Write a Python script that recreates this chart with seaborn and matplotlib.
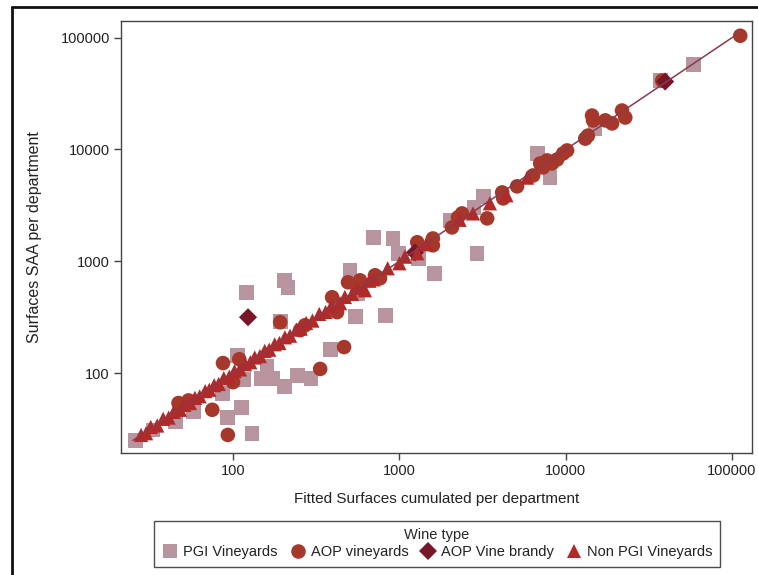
import matplotlib
matplotlib.use("Agg")
import matplotlib.pyplot as plt
from matplotlib.lines import Line2D
from matplotlib.ticker import FixedLocator, FixedFormatter, NullLocator
import seaborn as sns
import pandas as pd

# ---- data ----
categories = ["PGI Vineyards", "AOP vineyards", "AOP Vine brandy", "Non PGI Vineyards"]

pgi_x = [26, 33, 45, 58, 86, 93, 113, 130, 107, 115, 149, 160, 172, 205, 243, 294, 383, 542, 205, 214,
         121, 505, 557, 192, 695, 916, 982, 1295, 1620, 830, 2930, 2020, 2810, 3190, 6730, 8050, 15000, 37000, 59000]
pgi_y = [25, 31, 37, 45, 66, 40, 49, 29, 145, 87, 90, 115, 90, 76, 96, 89, 164, 323, 677, 586,
         529, 831, 518, 291, 1640, 1600, 1180, 1060, 780, 330, 1180, 2320, 3030, 3800, 9200, 5620, 15400, 41300, 57400]

aop_x = [47, 54, 75, 93, 87, 109, 100, 192, 334, 465, 394, 422, 491, 565, 253, 271, 580, 714, 765, 1280,
         1590, 1590, 2070, 2250, 2380, 3370, 4150, 4210, 5100, 6370, 7310, 8280, 8880, 9640, 10190, 13100,
         13600, 14400, 14600, 17300, 19000, 21800, 22800, 112000, 38000, 7020, 7730]
aop_y = [54, 57, 47, 28, 123, 133, 83, 285, 109, 171, 477, 351, 649, 611, 242, 268, 676, 750, 705, 1480,
         1600, 1390, 2010, 2470, 2680, 2420, 4130, 3650, 4680, 5860, 6910, 7500, 8140, 9200, 9800, 12500,
         13300, 20100, 18200, 18200, 17100, 22300, 19300, 104000, 41300, 7500, 7980]

brandy_x = [123, 1240, 39600]
brandy_y = [316, 1200, 40500]

non_x = [28, 30, 32, 35, 38, 41, 44, 48, 51, 55, 59, 63, 68, 72, 77, 82, 88, 95, 102, 110,
         118, 127, 135, 145, 155, 165, 178, 190, 205, 220, 240, 255, 275, 300, 330, 360, 390, 440, 470, 520,
         560, 620, 660, 700, 850, 1000, 1080, 1280, 1450, 2300, 2770, 3500, 4400, 5860]
non_y = [28, 29, 33, 34, 39, 40, 45, 47, 52, 54, 60, 62, 69, 71, 78, 80, 90, 93, 104, 108,
         120, 125, 138, 142, 158, 162, 181, 186, 209, 216, 245, 250, 281, 295, 338, 352, 398, 422, 480, 510,
         575, 551, 670, 690, 866, 960, 1100, 1180, 1420, 2350, 2680, 3300, 3900, 5600]

line_x = [25, 110000]
line_y = [25, 110000]

tick_vals = [100, 1000, 10000, 100000]
tick_labels = ["100", "1000", "10000", "100000"]

# ---- build table ----
frames = []
for cat, xs, ys in zip(categories, [pgi_x, aop_x, brandy_x, non_x], [pgi_y, aop_y, brandy_y, non_y]):
    frames.append(pd.DataFrame({"fitted": xs, "saa": ys, "Wine type": cat}))
df = pd.concat(frames, ignore_index=True)
line_df = pd.DataFrame({"fitted": line_x, "saa": line_y})

# ---- style ----
sns.set_theme(style="white")
plt.rcParams["font.family"] = ["Liberation Sans", "DejaVu Sans"]

palette = {"PGI Vineyards": "#b8959e", "AOP vineyards": "#a5382b",
           "AOP Vine brandy": "#761628", "Non PGI Vineyards": "#b02a2a"}
markers = {"PGI Vineyards": "s", "AOP vineyards": "o",
           "AOP Vine brandy": "D", "Non PGI Vineyards": "^"}
sizes = {"PGI Vineyards": 115, "AOP vineyards": 110,
         "AOP Vine brandy": 85, "Non PGI Vineyards": 105}

fig = plt.figure(figsize=(7.58, 5.75), dpi=100)
ax = fig.add_axes([121 / 758, 1 - 453 / 575, (752 - 121) / 758, (453 - 21) / 575])

sns.scatterplot(data=df, x="fitted", y="saa", hue="Wine type", style="Wine type",
                size="Wine type", sizes=sizes,
                hue_order=categories, style_order=categories, size_order=categories,
                palette=palette, markers=markers, linewidth=0, alpha=1,
                ax=ax, zorder=2)
sns.lineplot(data=line_df, x="fitted", y="saa", color="#8b3a4a", linewidth=1.1,
             ax=ax, zorder=3, legend=False)

ax.set_xscale("log")
ax.set_yscale("log")
ax.set_xlim(21.2, 131800)
ax.set_ylim(19.3, 140900)
for axis in (ax.xaxis, ax.yaxis):
    axis.set_major_locator(FixedLocator(tick_vals))
    axis.set_major_formatter(FixedFormatter(tick_labels))
    axis.set_minor_locator(NullLocator())

ax.tick_params(axis="both", which="major", direction="out", length=5, width=1,
               color="#444444", labelsize=10.5, labelcolor="#222222", pad=3,
               bottom=True, left=True)
for sp in ax.spines.values():
    sp.set_color("#444444")
    sp.set_linewidth(1)

ax.set_xlabel("Fitted Surfaces cumulated per department", fontsize=11, color="#222222", labelpad=10)
ax.set_ylabel("Surfaces SAA per department", fontsize=11.5, color="#222222")
ax.yaxis.set_label_coords(-(121 - 42) / (752 - 121), 0.5)

sns.move_legend(ax, "upper center", bbox_to_anchor=(437 / 758, 1 - 521 / 575),
                bbox_transform=fig.transFigure, ncol=4, title="Wine type",
                frameon=True, fontsize=10.5, title_fontsize=10.5,
                handletextpad=0.3, columnspacing=0.75, borderpad=0.5, borderaxespad=0,
                labelspacing=0.2, fancybox=False, handlelength=1.2)
leg = ax.get_legend()
leg.get_frame().set_edgecolor("#222222")
leg.get_frame().set_linewidth(1)
for t in leg.get_texts():
    t.set_color("#222222")

# outer frame lines visible at the top and left edge
fig.add_artist(Line2D([12 / 758, 1], [1 - 7 / 575, 1 - 7 / 575], color="#111111", lw=2,
                      transform=fig.transFigure))
fig.add_artist(Line2D([12 / 758, 12 / 758], [0, 1 - 7 / 575], color="#111111", lw=2,
                      transform=fig.transFigure))

fig.savefig("out.png", dpi=100)
